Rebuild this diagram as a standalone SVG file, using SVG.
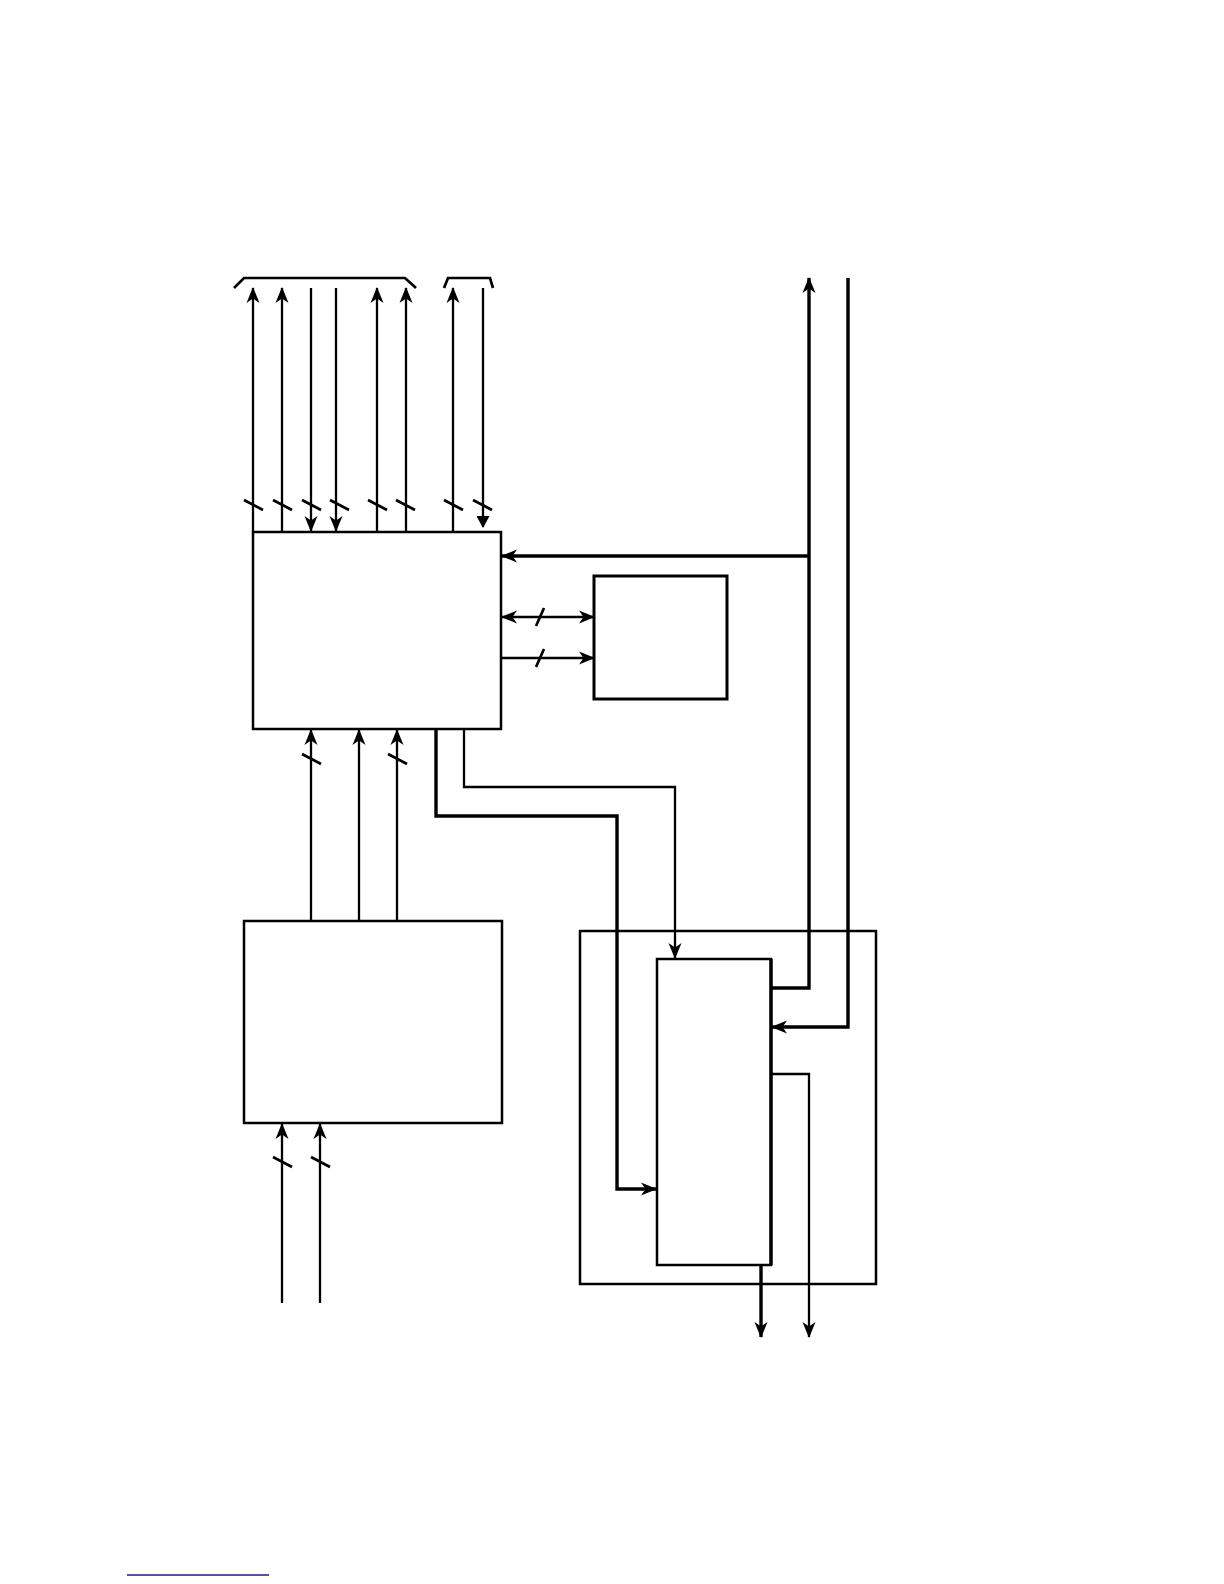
<svg xmlns="http://www.w3.org/2000/svg" width="1224" height="1584" viewBox="0 0 1224 1584">
<defs>
<marker id="ah" markerUnits="userSpaceOnUse" markerWidth="16" markerHeight="16" viewBox="0 0 16 16" refX="15" refY="8" orient="auto-start-reverse">
<path d="M0,1.5 L16,8 L0,14.5 L4.5,8 z" fill="#000"/>
</marker>
<marker id="tri" markerUnits="userSpaceOnUse" markerWidth="12" markerHeight="13" viewBox="0 0 12 13" refX="11" refY="6.5" orient="auto">
<path d="M0,0 L12,6.5 L0,13 z" fill="#000"/>
</marker>
<style>
.box{fill:#fff;stroke:#000;stroke-width:2.5}
.ln{fill:none;stroke:#000;stroke-width:2.3}
.th{fill:none;stroke:#000;stroke-width:3.4}
.sl{stroke:#000;stroke-width:2.7}
</style>
</defs>
<g id="nodes">
<g id="outer-box"><rect class="box" x="580" y="931" width="296" height="353" fill="none"/></g>
<g id="main-box"><rect class="box" x="253" y="532" width="248" height="197"/></g>
<g id="small-box"><rect class="box" x="594" y="576" width="133" height="123" style="stroke-width:3"/></g>
<g id="lower-box"><rect class="box" x="244" y="921" width="258" height="202"/></g>
<g id="inner-box"><rect class="box" x="657" y="959" width="114" height="306"/><line x1="771" y1="959" x2="771" y2="1265" class="th"/></g>
</g>
<g id="connectors">
<path class="th" d="M234,288 L244,278 L405,278 L416,288" style="stroke-width:2.7"/>
<path class="th" d="M444,288 L448,278 L490,278 L493,288" style="stroke-width:2.7"/>
<line class="ln" x1="253" y1="532" x2="253" y2="288" marker-end="url(#ah)"/>
<line class="ln" x1="282" y1="532" x2="282" y2="288" marker-end="url(#ah)"/>
<line class="ln" x1="311" y1="288" x2="311" y2="531" marker-end="url(#ah)"/>
<line class="ln" x1="336" y1="288" x2="336" y2="531" marker-end="url(#ah)"/>
<line class="ln" x1="377" y1="532" x2="377" y2="288" marker-end="url(#ah)"/>
<line class="ln" x1="406" y1="532" x2="406" y2="288" marker-end="url(#ah)"/>
<line class="ln" x1="453" y1="532" x2="453" y2="288" marker-end="url(#ah)"/>
<line class="ln" x1="483" y1="288" x2="483" y2="527" marker-end="url(#tri)"/>
<line class="sl" x1="244" y1="500" x2="263" y2="510"/>
<line class="sl" x1="273" y1="500" x2="292" y2="510"/>
<line class="sl" x1="302" y1="500" x2="321" y2="510"/>
<line class="sl" x1="330" y1="500" x2="349" y2="510"/>
<line class="sl" x1="368" y1="500" x2="387" y2="510"/>
<line class="sl" x1="396" y1="500" x2="415" y2="510"/>
<line class="sl" x1="444" y1="500" x2="463" y2="510"/>
<line class="sl" x1="473" y1="500" x2="492" y2="510"/>
<polyline class="th" points="771,988 809,988 809,278" marker-end="url(#ah)"/>
<line class="th" x1="809" y1="556" x2="502" y2="556" marker-end="url(#ah)"/>
<polyline class="th" points="848,278 848,1027 772,1027" marker-end="url(#ah)"/>
<polyline class="ln" points="771,1074 809,1074 809,1337" marker-end="url(#ah)"/>
<line class="ln" x1="502" y1="617" x2="594" y2="617" marker-start="url(#ah)" marker-end="url(#ah)"/>
<line class="sl" x1="544" y1="608" x2="536" y2="626"/>
<line class="ln" x1="501" y1="658" x2="594" y2="658" marker-end="url(#ah)"/>
<line class="sl" x1="544" y1="649" x2="536" y2="667"/>
<line class="ln" x1="311" y1="921" x2="311" y2="730" marker-end="url(#ah)"/>
<line class="ln" x1="359" y1="921" x2="359" y2="730" marker-end="url(#ah)"/>
<line class="ln" x1="397" y1="921" x2="397" y2="730" marker-end="url(#ah)"/>
<line class="sl" x1="302" y1="754" x2="321" y2="764"/>
<line class="sl" x1="388" y1="754" x2="407" y2="764"/>
<polyline class="th" points="436,729 436,816 617,816 617,1189 656,1189" marker-end="url(#ah)"/>
<polyline class="ln" points="464,729 464,787 675,787 675,958" marker-end="url(#ah)"/>
<line class="th" x1="761" y1="1265" x2="761" y2="1337" marker-end="url(#ah)"/>
<line class="ln" x1="282" y1="1303" x2="282" y2="1124" marker-end="url(#ah)"/>
<line class="ln" x1="320" y1="1303" x2="320" y2="1124" marker-end="url(#ah)"/>
<line class="sl" x1="273" y1="1157" x2="292" y2="1167"/>
<line class="sl" x1="311" y1="1157" x2="330" y2="1167"/>
</g>
<line x1="127" y1="1575" x2="269" y2="1575" stroke="#1a1a80" stroke-width="1.5"/>
</svg>
